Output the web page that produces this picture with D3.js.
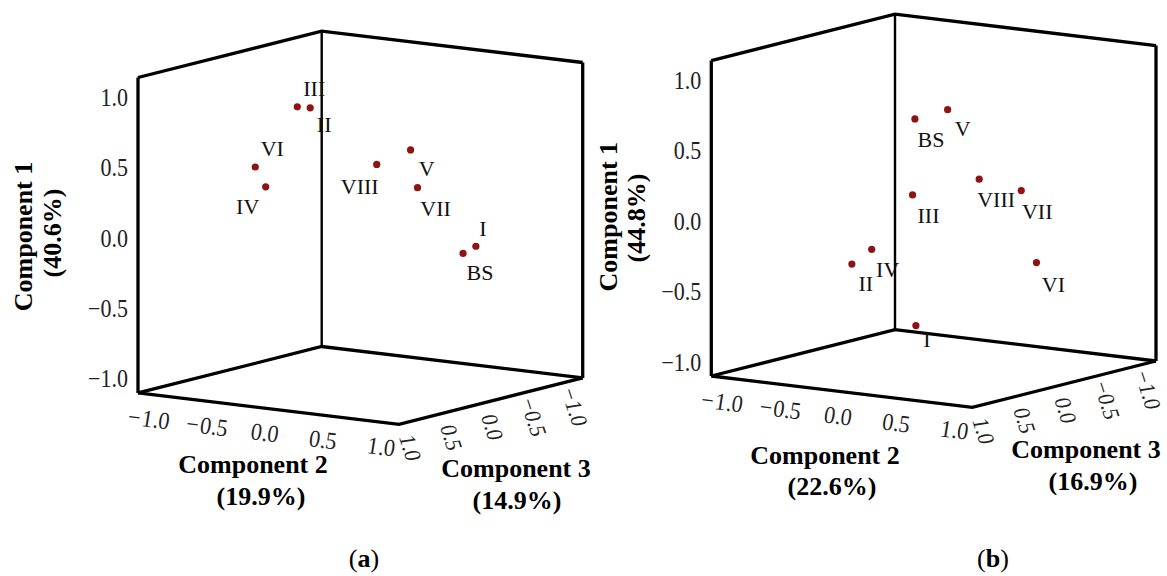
<!DOCTYPE html>
<html lang="en">
<head>
	<meta charset="UTF-8">
	<title>PCA 3D - Components</title>
<script src="https://cdn.jsdelivr.net/npm/d3@7"></script>
<style>
  body { margin: 0; background: #fff; }
  text { font-family: "Liberation Serif", "Times New Roman", serif; }
</style>
</head>
<body>

<script type="text/javascript">

// samples
var samples = ["BS", "I", "II", "III", "IV", "V", "VI", "VII", "VIII"];

// panel (a) scores, order as samples
var comp1A = [-0.16, -0.12, 0.83, 0.87, 0.34, 0.53, 0.45, 0.29, 0.42];
var comp2A = [0.67, 0.71, -0.36, -0.33, -0.39, 0.22, -0.55, 0.35, 0.00];
var comp3A = [-0.3, -0.4, 0.1, 0.3, 0.6, -0.3, 0.5, -0.2, -0.2];

// panel (b) scores
var comp1B = [0.68, -0.70, -0.34, 0.16, -0.24, 0.73, -0.41, 0.11, 0.22];
var comp2B = [-0.02, 0.27, -0.35, 0.03, -0.25, 0.12, 0.46, 0.40, 0.25];
var comp3B = [0.2, 0.6, 0.5, 0.3, 0.4, 0.0, -0.6, -0.5, -0.2];

var ticks = [-1.0, -0.5, 0.0, 0.5, 1.0];
var titlesA = ["(40.6%)", "(19.9%)", "(14.9%)"];
var titlesB = ["(44.8%)", "(22.6%)", "(16.9%)"];

// label offsets (layout only)
var offA = { BS:[17,19], I:[7,-18], II:[14,17], III:[17,-18], IV:[-18,20], V:[16,19], VI:[17,-18], VII:[18,21], VIII:[-17,22] };
var offB = { BS:[16,21], I:[11,14], II:[14,19], III:[16,21], IV:[16,20], V:[15,19], VI:[17,22], VII:[16,21], VIII:[17,20] };

var W = 1167, H = 576;
var R = 1.12;                    // box half-extent
var uVec = [261, 31.4];          // comp2 edge (left -> front)
var wVec = [183.7, -46.4];       // comp3 edge (front -> right)
var boxH = 315.4;

var fu = d3.scaleLinear().domain([-R, R]).range([0, 1]);
var fw = d3.scaleLinear().domain([R, -R]).range([0, 1]);
var fv = d3.scaleLinear().domain([-R, R]).range([0, boxH]);

var fmt = function(v){ return d3.format(".1f")(v).replace("-", "\u2212"); };

function init (){
  var svg = d3.select('body').append('svg')
    .attr('width', W)
    .attr('height', H);

  svg.append('rect').attr('width', W).attr('height', H).attr('fill', '#fff');

  drawPanel(svg, {
    x0: 138, y0: 392.9, c1: comp1A, c2: comp2A, c3: comp3A, off: offA, titles: titlesA,
    t1: [[32, 236.5], [61, 233]], t2: [[253, 473], [261, 505]], t3: [[516, 477], [517, 508.5]],
    tag: "a", tagPos: [364, 567]
  });
  drawPanel(svg, {
    x0: 711.3, y0: 376, c1: comp1B, c2: comp2B, c3: comp3B, off: offB, titles: titlesB,
    t1: [[617, 216.7], [645, 218]], t2: [[825, 464], [832, 495]], t3: [[1086, 458], [1093, 490]],
    tag: "b", tagPos: [993, 566.5]
  });
}

function drawPanel (svg, p){

  function proj(c1, c2, c3){
    return [p.x0 + fu(c2) * uVec[0] + fw(c3) * wVec[0],
            p.y0 + fu(c2) * uVec[1] + fw(c3) * wVec[1] - fv(c1)];
  }

  var g = svg.append('g');

  // box corners
  var LB = proj(-R, -R, R), FB = proj(-R, R, R), RB = proj(-R, R, -R), BB = proj(-R, -R, -R);
  var LT = proj(R, -R, R), RT = proj(R, R, -R), BT = proj(R, -R, -R);

  var line = d3.line();
  var edges = [[LT, LB], [RT, RB], [LT, BT, RT], [LB, FB, RB], [LB, BB, RB]];
  g.selectAll('path.edge')
    .data(edges)
    .enter().append('path')
    .attr('class', 'edge')
    .attr('d', line)
    .attr('fill', 'none')
    .attr('stroke', '#000')
    .attr('stroke-width', 3.3)
    .attr('stroke-linejoin', 'miter');
  g.append('path')
    .attr('d', line([BT, BB]))
    .attr('stroke', '#000')
    .attr('stroke-width', 2.4);

  // comp1 ticks (left edge)
  g.selectAll('text.t1')
    .data(ticks)
    .enter().append('text')
    .attr('class', 't1')
    .attr('transform', function(d){
      var q = proj(d, -R, R);
      return 'translate(' + (q[0] - 10) + ',' + (q[1] + 3) + ') scale(1,1.12)';
    })
    .attr('text-anchor', 'end')
    .attr('dominant-baseline', 'central')
    .style('font-size', '22px')
    .attr('fill', '#222')
    .text(fmt);

  // comp2 ticks (front-left bottom edge)
  g.selectAll('text.t2')
    .data(ticks)
    .enter().append('text')
    .attr('class', 't2')
    .attr('transform', function(d){
      var q = proj(-R, d, R);
      return 'translate(' + (q[0] - 4) + ',' + (q[1] + 24) + ') skewY(7) scale(1,1.12)';
    })
    .attr('text-anchor', 'middle')
    .attr('dominant-baseline', 'central')
    .style('font-size', '22px')
    .style('font-style', 'italic')
    .attr('fill', '#222')
    .text(fmt);

  // comp3 ticks (front-right bottom edge)
  g.selectAll('text.t3')
    .data(ticks)
    .enter().append('text')
    .attr('class', 't3')
    .attr('transform', function(d){
      var q = proj(-R, R, d);
      return 'translate(' + (q[0] + 1) + ',' + (q[1] + 26) + ') rotate(72) scale(1,1.08)';
    })
    .attr('text-anchor', 'middle')
    .attr('dominant-baseline', 'central')
    .style('font-size', '21px')
    .style('font-style', 'italic')
    .attr('fill', '#222')
    .text(fmt);

  // axis titles
  var bold = function(sel){ return sel.style('font-size', '26px').style('font-weight', 'bold').attr('text-anchor', 'middle'); };
  bold(g.append('text')).attr('transform', 'translate(' + p.t1[0] + ') rotate(-90)').text('Component 1');
  bold(g.append('text')).attr('transform', 'translate(' + p.t1[1] + ') rotate(-90)').text(p.titles[0]);
  bold(g.append('text')).attr('x', p.t2[0][0]).attr('y', p.t2[0][1]).text('Component 2');
  bold(g.append('text')).attr('x', p.t2[1][0]).attr('y', p.t2[1][1]).text(p.titles[1]);
  bold(g.append('text')).attr('x', p.t3[0][0]).attr('y', p.t3[0][1]).text('Component 3');
  bold(g.append('text')).attr('x', p.t3[1][0]).attr('y', p.t3[1][1]).text(p.titles[2]);

  var tag = g.append('text')
    .attr('x', p.tagPos[0]).attr('y', p.tagPos[1])
    .attr('text-anchor', 'middle')
    .style('font-size', '26px');
  tag.append('tspan').text('(');
  tag.append('tspan').style('font-weight', 'bold').text(p.tag);
  tag.append('tspan').text(')');

  // points
  var pts = samples.map(function(s, i){
    var q = proj(p.c1[i], p.c2[i], p.c3[i]);
    return { name: s, x: q[0], y: q[1] };
  });

  g.selectAll('circle.dot')
    .data(pts)
    .enter().append('circle')
    .attr('class', 'dot')
    .attr('r', 3.6)
    .attr('fill', '#8e1414')
    .attr('cx', function(d){ return d.x; })
    .attr('cy', function(d){ return d.y; });

  g.selectAll('text.lab')
    .data(pts)
    .enter().append('text')
    .attr('class', 'lab')
    .attr('x', function(d){ return d.x + p.off[d.name][0]; })
    .attr('y', function(d){ return d.y + p.off[d.name][1]; })
    .attr('text-anchor', 'middle')
    .attr('dominant-baseline', 'central')
    .style('font-size', '22px')
    .attr('fill', '#111')
    .text(function(d){ return d.name; });
}

window.addEventListener('load', init );

</script>

</body>
</html>
